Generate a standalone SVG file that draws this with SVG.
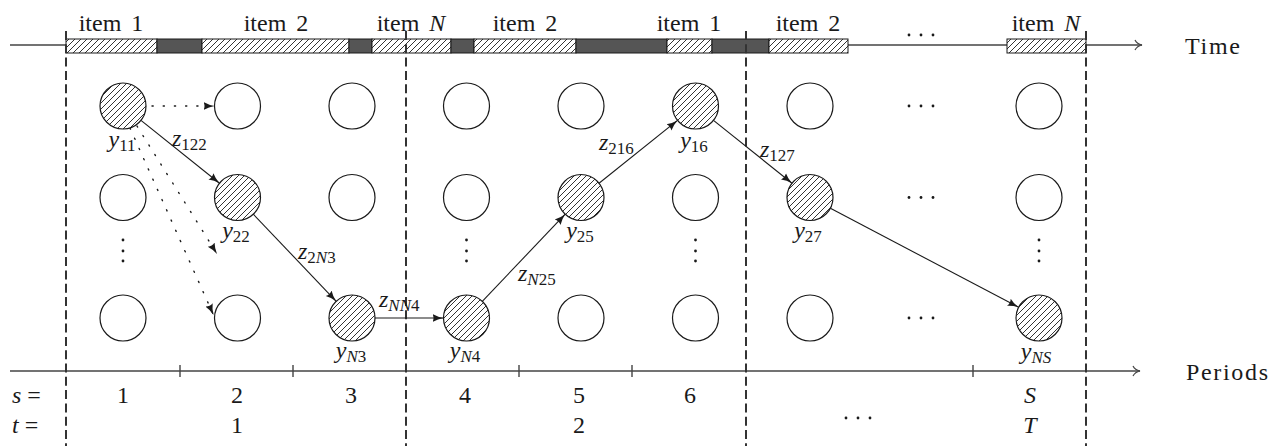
<svg xmlns="http://www.w3.org/2000/svg" width="1287" height="446" viewBox="0 0 1287 446" font-family="'Liberation Serif', 'Times New Roman', serif">
<style>
text{font-family:'Liberation Serif','Times New Roman',serif;font-size:24px;fill:#1a1a1a}
.it{font-style:italic}
.sub{font-size:17px}
.node{stroke:#1a1a1a;stroke-width:1.2;fill:#fff}
.hn{stroke:#1a1a1a;stroke-width:1.2;fill:url(#hatch)}
.seg{stroke:#1a1a1a;stroke-width:1;fill:url(#hatch)}
.dark{stroke:#1a1a1a;stroke-width:1;fill:#555}
.axis{stroke:#444;stroke-width:1.4;fill:none}
.dash{stroke:#333;stroke-width:2;stroke-dasharray:9 4.3;fill:none}
.edge{stroke:#1a1a1a;stroke-width:1.1;fill:none;marker-end:url(#ah)}
.dot{stroke:#1a1a1a;stroke-width:1.4;stroke-dasharray:1.2 10;stroke-linecap:round;fill:none;marker-end:url(#ah)}
.pt{fill:#1a1a1a}
</style>
<defs>
<pattern id="hatch" patternUnits="userSpaceOnUse" width="6" height="6">
<rect width="6" height="6" fill="#fff"/>
<path d="M-1,1 l2,-2 M0,6 l6,-6 M5,7 l2,-2" stroke="#000" stroke-width="0.8"/>
</pattern>
<marker id="ah" markerWidth="12" markerHeight="10" refX="11" refY="5" orient="auto" markerUnits="userSpaceOnUse">
<path d="M0,1 Q5,4 11,5 Q5,6 0,9 Q2,5 0,1 Z" fill="#1a1a1a"/>
</marker>
<marker id="to" markerWidth="10" markerHeight="12" refX="8" refY="6" orient="auto" markerUnits="userSpaceOnUse">
<path d="M1,1 Q3,5 8,6 Q3,7 1,11" stroke="#444" stroke-width="1.2" fill="none"/>
</marker>
</defs>
<rect width="1287" height="446" fill="#fff"/>

<g id="time-axis">
<line class="axis" x1="10" y1="45" x2="1142" y2="45" marker-end="url(#to)"/>
<rect class="seg" x="66" y="39" width="91" height="14"/>
<rect class="dark" x="157" y="39" width="45" height="14"/>
<rect class="seg" x="202" y="39" width="147" height="14"/>
<rect class="dark" x="349" y="39" width="23" height="14"/>
<rect class="seg" x="372" y="39" width="79" height="14"/>
<rect class="dark" x="451" y="39" width="23" height="14"/>
<rect class="seg" x="474" y="39" width="102" height="14"/>
<rect class="dark" x="576" y="39" width="91" height="14"/>
<rect class="seg" x="667" y="39" width="45" height="14"/>
<rect class="dark" x="712" y="39" width="57" height="14"/>
<rect class="seg" x="769" y="39" width="79" height="14"/>
<rect class="seg" x="1007" y="39" width="79" height="14"/>
<circle class="pt" cx="909" cy="35" r="1.4"/><circle class="pt" cx="921" cy="35" r="1.4"/><circle class="pt" cx="933" cy="35" r="1.4"/>
<text x="111" y="31" text-anchor="middle" word-spacing="4">item 1</text>
<text x="276" y="31" text-anchor="middle" word-spacing="4">item 2</text>
<text x="411" y="31" text-anchor="middle" word-spacing="4">item <tspan class="it">N</tspan></text>
<text x="525" y="31" text-anchor="middle" word-spacing="4">item 2</text>
<text x="689" y="31" text-anchor="middle" word-spacing="4">item 1</text>
<text x="808" y="31" text-anchor="middle" word-spacing="4">item 2</text>
<text x="1046" y="31" text-anchor="middle" word-spacing="4">item <tspan class="it">N</tspan></text>
<text x="1185" y="54" textLength="55">Time</text>
</g>

<g id="period-axis">
<line class="axis" x1="10" y1="371" x2="1140" y2="371" marker-end="url(#to)"/>
<path class="axis" d="M180,365V377 M293,365V377 M519,365V377 M632,365V377 M973,365V377"/>
<text x="1186" y="380" textLength="82">Periods</text>
<text x="12" y="403"><tspan class="it">s</tspan> =</text>
<text x="12" y="433"><tspan class="it">t</tspan> =</text>
<text x="123" y="403" text-anchor="middle">1</text>
<text x="237" y="403" text-anchor="middle">2</text>
<text x="351" y="403" text-anchor="middle">3</text>
<text x="465" y="403" text-anchor="middle">4</text>
<text x="579" y="403" text-anchor="middle">5</text>
<text x="690" y="403" text-anchor="middle">6</text>
<text x="1030" y="403" text-anchor="middle" class="it">S</text>
<text x="237" y="433" text-anchor="middle">1</text>
<text x="579" y="433" text-anchor="middle">2</text>
<text x="1030" y="433" text-anchor="middle" class="it">T</text>
<circle class="pt" cx="846" cy="418" r="1.4"/><circle class="pt" cx="858" cy="418" r="1.4"/><circle class="pt" cx="870" cy="418" r="1.4"/>
</g>

<g id="period-dividers">
<path class="dash" d="M66,31V446 M406,31V446 M746,31V446 M1086,31V446"/>
</g>

<g id="connectors">
<path class="edge" d="M141,120.4L219.5,183.2"/>
<path class="edge" d="M253.3,214.2L336.2,301.3"/>
<path class="edge" d="M375,318L443.5,318"/>
<path class="edge" d="M482.3,301.3L565.2,214.2"/>
<path class="edge" d="M599,183.2L677.5,120.4"/>
<path class="edge" d="M713.5,120.4L792,183.2"/>
<path class="edge" d="M830.4,208.2L1018.6,307.3"/>
<path class="dot" d="M152,106L214.5,106"/>
<path class="dot" d="M137,126L217,254"/>
<path class="dot" d="M130,128L213.5,315"/>
<text x="172" y="146"><tspan class="it">z</tspan><tspan class="sub" dy="4">122</tspan></text>
<text x="298" y="259"><tspan class="it">z</tspan><tspan class="sub" dy="4">2</tspan><tspan class="sub it">N</tspan><tspan class="sub">3</tspan></text>
<text x="379" y="307"><tspan class="it">z</tspan><tspan class="sub it" dy="4">NN</tspan><tspan class="sub">4</tspan></text>
<text x="518" y="281"><tspan class="it">z</tspan><tspan class="sub it" dy="4">N</tspan><tspan class="sub">25</tspan></text>
<text x="599" y="150"><tspan class="it">z</tspan><tspan class="sub" dy="4">216</tspan></text>
<text x="760" y="157"><tspan class="it">z</tspan><tspan class="sub" dy="4">127</tspan></text>
</g>

<g id="node-r1c1"><circle class="hn" cx="123" cy="106" r="23"/><text x="122" y="147" text-anchor="middle"><tspan class="it">y</tspan><tspan class="sub" dy="4">11</tspan></text></g>
<g id="node-r1c2"><circle class="node" cx="237.5" cy="106" r="23"/></g>
<g id="node-r1c3"><circle class="node" cx="352" cy="106" r="23"/></g>
<g id="node-r1c4"><circle class="node" cx="466.5" cy="106" r="23"/></g>
<g id="node-r1c5"><circle class="node" cx="581" cy="106" r="23"/></g>
<g id="node-r1c6"><circle class="hn" cx="695.5" cy="106" r="23"/><text x="694" y="148" text-anchor="middle"><tspan class="it">y</tspan><tspan class="sub" dy="4">16</tspan></text></g>
<g id="node-r1c7"><circle class="node" cx="810" cy="106" r="23"/></g>
<g id="node-r1c8"><circle class="pt" cx="909" cy="106" r="1.4"/><circle class="pt" cx="921" cy="106" r="1.4"/><circle class="pt" cx="933" cy="106" r="1.4"/></g>
<g id="node-r1c9"><circle class="node" cx="1039" cy="106" r="23"/></g>

<g id="node-r2c1"><circle class="node" cx="123" cy="197.5" r="23"/></g>
<g id="node-r2c2"><circle class="hn" cx="237.5" cy="197.5" r="23"/><text x="236" y="238" text-anchor="middle"><tspan class="it">y</tspan><tspan class="sub" dy="4">22</tspan></text></g>
<g id="node-r2c3"><circle class="node" cx="352" cy="197.5" r="23"/></g>
<g id="node-r2c4"><circle class="node" cx="466.5" cy="197.5" r="23"/></g>
<g id="node-r2c5"><circle class="hn" cx="581" cy="197.5" r="23"/><text x="580" y="238" text-anchor="middle"><tspan class="it">y</tspan><tspan class="sub" dy="4">25</tspan></text></g>
<g id="node-r2c6"><circle class="node" cx="695.5" cy="197.5" r="23"/></g>
<g id="node-r2c7"><circle class="hn" cx="810" cy="197.5" r="23"/><text x="808" y="238" text-anchor="middle"><tspan class="it">y</tspan><tspan class="sub" dy="4">27</tspan></text></g>
<g id="node-r2c8"><circle class="pt" cx="909" cy="197.5" r="1.4"/><circle class="pt" cx="921" cy="197.5" r="1.4"/><circle class="pt" cx="933" cy="197.5" r="1.4"/></g>
<g id="node-r2c9"><circle class="node" cx="1039" cy="197.5" r="23"/></g>

<g id="vdots">
<circle class="pt" cx="123" cy="240" r="1.4"/><circle class="pt" cx="123" cy="251" r="1.4"/><circle class="pt" cx="123" cy="261" r="1.4"/>
<circle class="pt" cx="466.5" cy="240" r="1.4"/><circle class="pt" cx="466.5" cy="251" r="1.4"/><circle class="pt" cx="466.5" cy="261" r="1.4"/>
<circle class="pt" cx="695.5" cy="240" r="1.4"/><circle class="pt" cx="695.5" cy="251" r="1.4"/><circle class="pt" cx="695.5" cy="261" r="1.4"/>
<circle class="pt" cx="1039" cy="240" r="1.4"/><circle class="pt" cx="1039" cy="251" r="1.4"/><circle class="pt" cx="1039" cy="261" r="1.4"/>
</g>

<g id="node-r3c1"><circle class="node" cx="123" cy="318" r="23"/></g>
<g id="node-r3c2"><circle class="node" cx="237.5" cy="318" r="23"/></g>
<g id="node-r3c3"><circle class="hn" cx="352" cy="318" r="23"/><text x="351" y="358" text-anchor="middle"><tspan class="it">y</tspan><tspan class="sub it" dy="4">N</tspan><tspan class="sub">3</tspan></text></g>
<g id="node-r3c4"><circle class="hn" cx="466.5" cy="318" r="23"/><text x="465" y="358" text-anchor="middle"><tspan class="it">y</tspan><tspan class="sub it" dy="4">N</tspan><tspan class="sub">4</tspan></text></g>
<g id="node-r3c5"><circle class="node" cx="581" cy="318" r="23"/></g>
<g id="node-r3c6"><circle class="node" cx="695.5" cy="318" r="23"/></g>
<g id="node-r3c7"><circle class="node" cx="810" cy="318" r="23"/></g>
<g id="node-r3c8"><circle class="pt" cx="909" cy="318" r="1.4"/><circle class="pt" cx="921" cy="318" r="1.4"/><circle class="pt" cx="933" cy="318" r="1.4"/></g>
<g id="node-r3c9"><circle class="hn" cx="1039" cy="318" r="23"/><text x="1036" y="359" text-anchor="middle"><tspan class="it">y</tspan><tspan class="sub it" dy="4">NS</tspan></text></g>
</svg>
